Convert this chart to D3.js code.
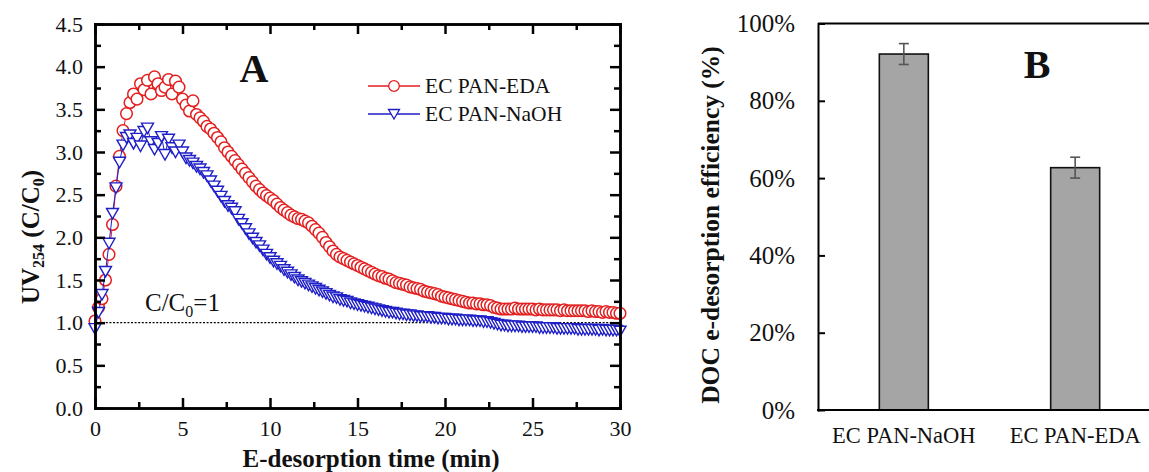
<!DOCTYPE html>
<html>
<head>
<meta charset="utf-8">
<script src="https://cdn.jsdelivr.net/npm/d3@7/dist/d3.min.js"></script>
<style>
  html, body { margin: 0; padding: 0; background: #fff; }
  svg { display: block; }
</style>
</head>
<body>
<script>
// ---- Panel A: UV254 breakthrough during electro-desorption ----
const timeMin = [
  0,0.2,0.4,0.6,0.8,1,1.2,1.4,1.6,1.8,2,2.2,2.4,2.6,2.8,3,3.2,3.4,3.6,3.8,
  4,4.2,4.4,4.6,4.8,5,5.2,5.4,5.6,5.8,6,6.2,6.4,6.6,6.8,7,7.2,7.4,7.6,7.8,
  8,8.2,8.4,8.6,8.8,9,9.2,9.4,9.6,9.8,10,10.2,10.4,10.6,10.8,11,11.2,11.4,11.6,11.8,
  12,12.2,12.4,12.6,12.8,13,13.2,13.4,13.6,13.8,14,14.2,14.4,14.6,14.8,15,15.2,15.4,15.6,15.8,
  16,16.2,16.4,16.6,16.8,17,17.2,17.4,17.6,17.8,18,18.2,18.4,18.6,18.8,19,19.2,19.4,19.6,19.8,
  20,20.2,20.4,20.6,20.8,21,21.2,21.4,21.6,21.8,22,22.2,22.4,22.6,22.8,23,23.2,23.4,23.6,23.8,
  24,24.2,24.4,24.6,24.8,25,25.2,25.4,25.6,25.8,26,26.2,26.4,26.6,26.8,27,27.2,27.4,27.6,27.8,
  28,28.2,28.4,28.6,28.8,29,29.2,29.4,29.6,29.8,30
];
const uvEDA = [
  1.02,1.18,1.28,1.5,1.8,2.15,2.6,2.95,3.25,3.45,3.58,3.68,3.62,3.8,3.73,3.84,3.68,3.88,3.8,3.72,
  3.76,3.85,3.68,3.83,3.76,3.62,3.55,3.48,3.6,3.44,3.4,3.36,3.3,3.27,3.22,3.17,3.12,3.05,3.0,2.95,
  2.9,2.85,2.8,2.75,2.7,2.65,2.6,2.56,2.52,2.49,2.46,2.43,2.39,2.35,2.32,2.29,2.26,2.24,2.22,2.21,
  2.19,2.17,2.13,2.09,2.05,2.0,1.94,1.89,1.84,1.8,1.77,1.75,1.73,1.71,1.69,1.67,1.65,1.63,1.61,1.59,
  1.57,1.55,1.54,1.52,1.51,1.49,1.47,1.46,1.45,1.44,1.42,1.41,1.4,1.39,1.37,1.36,1.35,1.34,1.33,1.31,
  1.3,1.29,1.28,1.27,1.26,1.25,1.24,1.23,1.23,1.22,1.22,1.21,1.21,1.2,1.18,1.17,1.16,1.16,1.16,1.16,
  1.17,1.16,1.16,1.16,1.16,1.16,1.15,1.16,1.15,1.15,1.15,1.15,1.15,1.14,1.15,1.14,1.14,1.14,1.14,1.14,
  1.14,1.13,1.14,1.13,1.13,1.12,1.13,1.12,1.12,1.11,1.11
];
const uvNaOH = [
  0.93,1.12,1.33,1.6,1.93,2.28,2.58,2.88,3.08,3.17,3.2,3.1,3.16,3.07,3.24,3.28,3.12,3.03,3.1,3.18,
  2.97,3.15,3.05,3.0,3.08,3.0,2.93,2.9,2.87,2.83,2.8,2.76,2.72,2.66,2.6,2.54,2.48,2.42,2.37,2.34,
  2.3,2.21,2.16,2.1,2.04,1.99,1.94,1.9,1.85,1.8,1.76,1.72,1.69,1.66,1.62,1.59,1.56,1.53,1.5,1.48,
  1.46,1.44,1.42,1.4,1.38,1.36,1.34,1.32,1.3,1.29,1.27,1.26,1.25,1.23,1.22,1.21,1.2,1.19,1.18,1.17,
  1.16,1.15,1.14,1.13,1.12,1.12,1.11,1.1,1.1,1.09,1.09,1.08,1.08,1.07,1.07,1.07,1.06,1.06,1.05,1.05,
  1.05,1.04,1.04,1.04,1.03,1.03,1.03,1.03,1.02,1.02,1.02,1.01,1.01,1.0,0.99,0.98,0.97,0.97,0.96,0.96,
  0.96,0.96,0.95,0.95,0.95,0.95,0.95,0.94,0.94,0.94,0.94,0.94,0.93,0.93,0.93,0.93,0.93,0.93,0.92,0.92,
  0.92,0.92,0.92,0.92,0.91,0.92,0.91,0.91,0.91,0.91,0.9
];
const seriesNames = ["EC PAN-EDA", "EC PAN-NaOH"];
const xMajorTicks = [0, 5, 10, 15, 20, 25, 30];
const xMinorTicks = [2.5, 7.5, 12.5, 17.5, 22.5, 27.5];
const yMajorTicks = [0, 0.5, 1, 1.5, 2, 2.5, 3, 3.5, 4, 4.5];
const yMinorTicks = [0.25, 0.75, 1.25, 1.75, 2.25, 2.75, 3.25, 3.75, 4.25];
const referenceLevel = 1;

// ---- Panel B: DOC e-desorption efficiency ----
const bCategories = ["EC PAN-NaOH", "EC PAN-EDA"];
const bEfficiency = [0.921, 0.627];
const bError = [0.027, 0.027];
const bTicks = [0, 0.2, 0.4, 0.6, 0.8, 1.0];

const SERIF = '"Liberation Serif", "Times New Roman", serif';
const RED = "#e31f1f", BLUE = "#1f1fc8";

const svg = d3.select("body").append("svg")
  .attr("width", 1149).attr("height", 472)
  .style("background", "#fff");

function styleAxis(g, width, fontSize) {
  g.select(".domain").attr("stroke", "#000").attr("stroke-width", width)
    .attr("stroke-linecap", "square");
  g.selectAll(".tick line").attr("stroke", "#000").attr("stroke-width", width);
  g.selectAll("text").attr("font-family", SERIF).attr("font-size", fontSize)
    .attr("fill", "#111");
}

// ================= Panel A =================
const xA = d3.scaleLinear().domain([0, 30]).range([95, 620]);
const yA = d3.scaleLinear().domain([0, 4.5]).range([408, 24]);
const gA = svg.append("g");

// reference line C/C0 = 1
gA.append("line")
  .attr("x1", xA(0)).attr("x2", xA(30))
  .attr("y1", yA(referenceLevel)).attr("y2", yA(referenceLevel))
  .attr("stroke", "#000").attr("stroke-width", 1.2)
  .attr("stroke-dasharray", "2,1.6");

const ptsEDA = timeMin.map((t, i) => [t, uvEDA[i]]);
const ptsNaOH = timeMin.map((t, i) => [t, uvNaOH[i]]);
const lineA = d3.line().x(d => xA(d[0])).y(d => yA(d[1]));
const triPath = "M-6,-5L6,-5L0,5.5Z";

// EDA: open circles
gA.append("path").datum(ptsEDA).attr("d", lineA)
  .attr("fill", "none").attr("stroke", RED).attr("stroke-width", 1);
gA.append("g").selectAll("circle").data(ptsEDA).join("circle")
  .attr("cx", d => xA(d[0])).attr("cy", d => yA(d[1])).attr("r", 5.8)
  .attr("fill", "#fff").attr("stroke", RED).attr("stroke-width", 1.5);

// NaOH: open down-triangles
gA.append("path").datum(ptsNaOH).attr("d", lineA)
  .attr("fill", "none").attr("stroke", BLUE).attr("stroke-width", 1);
gA.append("g").selectAll("path").data(ptsNaOH).join("path")
  .attr("d", triPath)
  .attr("transform", d => `translate(${xA(d[0])},${yA(d[1])})`)
  .attr("fill", "#fff").attr("stroke", BLUE).attr("stroke-width", 1.4);

// axes (ticks point inward on all four sides)
const axB = gA.append("g").attr("transform", "translate(0,408)");
axB.call(d3.axisBottom(xA).tickValues(xMinorTicks).tickSize(-6).tickSizeOuter(0).tickFormat(""));
styleAxis(axB, 2.5, 22);
const axB2 = gA.append("g").attr("transform", "translate(0,408)");
axB2.call(d3.axisBottom(xA).tickValues(xMajorTicks).tickSize(-10).tickSizeOuter(0)
  .tickPadding(12).tickFormat(d3.format("d")));
styleAxis(axB2, 2.5, 22);

const axT = gA.append("g").attr("transform", "translate(0,24)");
axT.call(d3.axisTop(xA).tickValues(xMinorTicks).tickSize(-6).tickSizeOuter(0).tickFormat(""));
styleAxis(axT, 2.5, 22);
const axT2 = gA.append("g").attr("transform", "translate(0,24)");
axT2.call(d3.axisTop(xA).tickValues(xMajorTicks).tickSize(-10).tickSizeOuter(0).tickFormat(""));
styleAxis(axT2, 2.5, 22);

const axL = gA.append("g").attr("transform", "translate(95,0)");
axL.call(d3.axisLeft(yA).tickValues(yMinorTicks).tickSize(-6).tickSizeOuter(0).tickFormat(""));
styleAxis(axL, 2.5, 22);
const axL2 = gA.append("g").attr("transform", "translate(95,0)");
axL2.call(d3.axisLeft(yA).tickValues(yMajorTicks).tickSize(-10).tickSizeOuter(0)
  .tickPadding(12).tickFormat(d3.format(".1f")));
styleAxis(axL2, 2.5, 22);

const axR = gA.append("g").attr("transform", "translate(620,0)");
axR.call(d3.axisRight(yA).tickValues(yMinorTicks).tickSize(-6).tickSizeOuter(0).tickFormat(""));
styleAxis(axR, 2.5, 22);
const axR2 = gA.append("g").attr("transform", "translate(620,0)");
axR2.call(d3.axisRight(yA).tickValues(yMajorTicks).tickSize(-10).tickSizeOuter(0).tickFormat(""));
styleAxis(axR2, 2.5, 22);

// axis titles
gA.append("text")
  .attr("x", 371).attr("y", 467).attr("text-anchor", "middle")
  .attr("font-family", SERIF).attr("font-weight", "bold").attr("font-size", 25)
  .attr("fill", "#111").text("E-desorption time (min)");

const yt = gA.append("text")
  .attr("transform", "translate(39,237) rotate(-90)").attr("text-anchor", "middle")
  .attr("font-family", SERIF).attr("font-weight", "bold").attr("font-size", 25)
  .attr("fill", "#111");
yt.append("tspan").text("UV");
yt.append("tspan").attr("font-size", 16).attr("dy", 5).text("254");
yt.append("tspan").attr("dy", -5).text(" (C/C");
yt.append("tspan").attr("font-size", 16).attr("dy", 5).text("0");
yt.append("tspan").attr("dy", -5).text(")");

// reference label
const refLbl = gA.append("text")
  .attr("x", 145).attr("y", 311)
  .attr("font-family", SERIF).attr("font-size", 25).attr("fill", "#111");
refLbl.append("tspan").text("C/C");
refLbl.append("tspan").attr("font-size", 16).attr("dy", 6).text("0");
refLbl.append("tspan").attr("dy", -6).text("=" + referenceLevel);

// panel letter
gA.append("text").attr("x", 254).attr("y", 82).attr("text-anchor", "middle")
  .attr("font-family", SERIF).attr("font-weight", "bold").attr("font-size", 40)
  .attr("fill", "#111").text("A");

// legend
const legendRows = [
  { name: seriesNames[0], color: RED, shape: "circle", y: 86 },
  { name: seriesNames[1], color: BLUE, shape: "tri", y: 114 }
];
legendRows.forEach(r => {
  const g = gA.append("g");
  g.append("line").attr("x1", 368).attr("x2", 420).attr("y1", r.y).attr("y2", r.y)
    .attr("stroke", r.color).attr("stroke-width", 1.5);
  if (r.shape === "circle") {
    g.append("circle").attr("cx", 394).attr("cy", r.y).attr("r", 5.3)
      .attr("fill", "#fff").attr("stroke", r.color).attr("stroke-width", 1.3);
  } else {
    g.append("path").attr("d", "M-5.5,-4.5L5.5,-4.5L0,5Z").attr("transform", `translate(394,${r.y})`)
      .attr("fill", "#fff").attr("stroke", r.color).attr("stroke-width", 1.3);
  }
  g.append("text").attr("x", 425).attr("y", r.y + 7)
    .attr("font-family", SERIF).attr("font-size", 21.5).attr("fill", "#111")
    .text(r.name);
});

// ================= Panel B =================
const gB = svg.append("g");
const xB = d3.scaleBand().domain(bCategories).range([818, 1161])
  .paddingInner(0.714).paddingOuter(0.358);
const yB = d3.scaleLinear().domain([0, 1]).range([410, 23.5]);

// bars
gB.append("g").selectAll("rect").data(bCategories).join("rect")
  .attr("x", d => xB(d)).attr("width", xB.bandwidth())
  .attr("y", (d, i) => yB(bEfficiency[i]))
  .attr("height", (d, i) => yB(0) - yB(bEfficiency[i]))
  .attr("fill", "#a5a5a5").attr("stroke", "#111").attr("stroke-width", 1.6);

// error bars
const eb = gB.append("g").attr("stroke", "#555").attr("stroke-width", 1.6);
bCategories.forEach((c, i) => {
  const cx = xB(c) + xB.bandwidth() / 2;
  const hi = yB(bEfficiency[i] + bError[i]), lo = yB(bEfficiency[i] - bError[i]);
  eb.append("line").attr("x1", cx).attr("x2", cx).attr("y1", hi).attr("y2", lo);
  eb.append("line").attr("x1", cx - 5).attr("x2", cx + 5).attr("y1", hi).attr("y2", hi);
  eb.append("line").attr("x1", cx - 5).attr("x2", cx + 5).attr("y1", lo).attr("y2", lo);
});

// frame: left axis, bottom axis, top line
const bL = gB.append("g").attr("transform", "translate(818,0)");
bL.call(d3.axisLeft(yB).tickValues(bTicks).tickSize(-7).tickSizeOuter(0)
  .tickPadding(23).tickFormat(d3.format(".0%")));
styleAxis(bL, 2, 25);

const bBot = gB.append("g").attr("transform", "translate(0,410)");
bBot.call(d3.axisBottom(xB).tickSize(0).tickSizeOuter(0).tickPadding(17));
styleAxis(bBot, 2, 22.5);
bBot.select(".domain").attr("d", "M818,0H1160");

gB.append("line").attr("x1", 818).attr("x2", 1160).attr("y1", yB(1)).attr("y2", yB(1))
  .attr("stroke", "#000").attr("stroke-width", 2);

// y title
gB.append("text")
  .attr("transform", "translate(719,225) rotate(-90)").attr("text-anchor", "middle")
  .attr("font-family", SERIF).attr("font-weight", "bold").attr("font-size", 25.5)
  .attr("fill", "#111").text("DOC e-desorption efficiency (%)");

// panel letter
gB.append("text").attr("x", 1037).attr("y", 78).attr("text-anchor", "middle")
  .attr("font-family", SERIF).attr("font-weight", "bold").attr("font-size", 40)
  .attr("fill", "#111").text("B");
</script>
</body>
</html>
